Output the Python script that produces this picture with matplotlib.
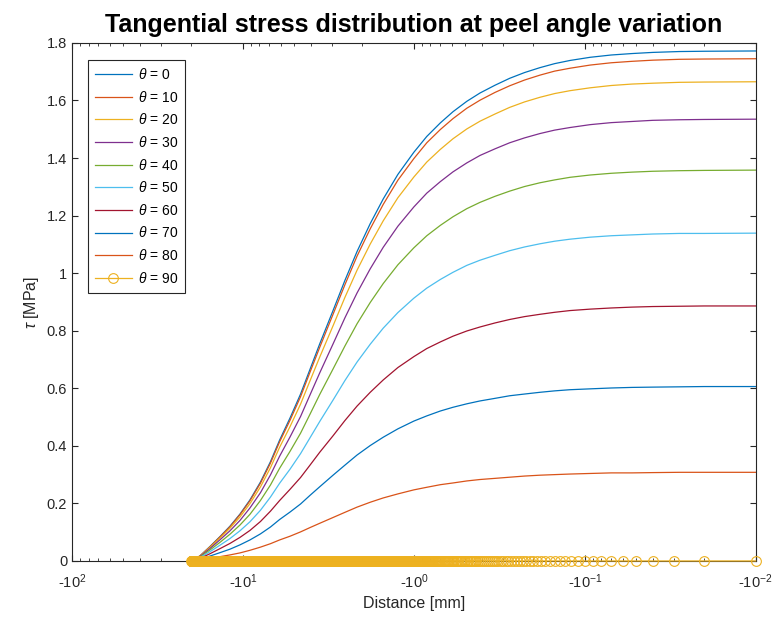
import numpy as np
import matplotlib
matplotlib.use("Agg")
import matplotlib.pyplot as plt

plt.rcParams['font.family'] = ['Liberation Sans', 'DejaVu Sans']
plt.rcParams['mathtext.fontset'] = 'custom'
plt.rcParams['mathtext.rm'] = 'Liberation Sans'
plt.rcParams['mathtext.it'] = 'Liberation Sans:italic'

# distance (mm, magnitude) where values were read, x axis shows it as negative
dist = [20, 17.8, 15.6, 13.6, 11.9, 10.4, 9.1, 7.9, 6.9, 6.1, 5.3, 4.6, 4.05, 3.55,
        2.97, 2.53, 2.15, 1.8, 1.51, 1.24, 1.0, 0.84, 0.70, 0.59, 0.49, 0.41, 0.335,
        0.275, 0.225, 0.183, 0.15, 0.122, 0.093, 0.07, 0.053, 0.04, 0.028, 0.02, 0.01]

tau_0 = [0, 0.018, 0.050, 0.085, 0.121, 0.163, 0.212, 0.274, 0.345, 0.420, 0.497, 0.580,
         0.666, 0.755, 0.870, 0.975, 1.075, 1.172, 1.258, 1.343, 1.420, 1.475, 1.522,
         1.561, 1.597, 1.626, 1.653, 1.677, 1.697, 1.714, 1.728, 1.739, 1.750, 1.758,
         1.763, 1.767, 1.770, 1.771, 1.772]
tau_10 = [0, 0.018, 0.049, 0.084, 0.119, 0.161, 0.209, 0.270, 0.340, 0.414, 0.489, 0.571,
          0.656, 0.743, 0.857, 0.960, 1.059, 1.154, 1.239, 1.323, 1.398, 1.453, 1.499,
          1.537, 1.573, 1.601, 1.628, 1.651, 1.671, 1.688, 1.702, 1.712, 1.723, 1.731,
          1.736, 1.740, 1.743, 1.744, 1.745]
tau_20 = [0, 0.017, 0.047, 0.080, 0.114, 0.153, 0.199, 0.257, 0.324, 0.395, 0.467, 0.545,
          0.626, 0.709, 0.817, 0.916, 1.010, 1.101, 1.182, 1.262, 1.334, 1.386, 1.430,
          1.467, 1.501, 1.528, 1.553, 1.576, 1.595, 1.611, 1.624, 1.634, 1.644, 1.652,
          1.657, 1.660, 1.663, 1.664, 1.665]
tau_30 = [0, 0.016, 0.043, 0.074, 0.105, 0.141, 0.184, 0.237, 0.299, 0.364, 0.431, 0.502,
          0.577, 0.654, 0.754, 0.845, 0.931, 1.015, 1.090, 1.163, 1.230, 1.278, 1.318,
          1.352, 1.383, 1.409, 1.432, 1.453, 1.470, 1.485, 1.497, 1.506, 1.516, 1.523,
          1.527, 1.531, 1.533, 1.534, 1.535]
tau_40 = [0, 0.014, 0.038, 0.065, 0.093, 0.125, 0.162, 0.210, 0.264, 0.322, 0.381, 0.444,
          0.510, 0.579, 0.667, 0.747, 0.824, 0.898, 0.964, 1.029, 1.088, 1.130, 1.166,
          1.196, 1.224, 1.246, 1.267, 1.285, 1.301, 1.314, 1.324, 1.333, 1.341, 1.347,
          1.351, 1.354, 1.356, 1.357, 1.358]
tau_50 = [0, 0.012, 0.032, 0.055, 0.078, 0.105, 0.136, 0.176, 0.222, 0.270, 0.319, 0.373,
          0.428, 0.485, 0.559, 0.627, 0.691, 0.753, 0.809, 0.863, 0.913, 0.948, 0.978,
          1.003, 1.027, 1.045, 1.062, 1.078, 1.091, 1.102, 1.111, 1.118, 1.125, 1.130,
          1.133, 1.136, 1.138, 1.138, 1.139]
tau_60 = [0, 0.009, 0.025, 0.043, 0.061, 0.082, 0.106, 0.137, 0.173, 0.210, 0.249, 0.290,
          0.333, 0.378, 0.435, 0.488, 0.538, 0.586, 0.629, 0.672, 0.710, 0.738, 0.761,
          0.781, 0.799, 0.813, 0.827, 0.839, 0.849, 0.857, 0.864, 0.870, 0.875, 0.879,
          0.882, 0.884, 0.885, 0.886, 0.886]
tau_70 = [0, 0.006, 0.017, 0.029, 0.041, 0.056, 0.073, 0.094, 0.118, 0.144, 0.170, 0.198,
          0.228, 0.258, 0.298, 0.333, 0.368, 0.401, 0.430, 0.459, 0.486, 0.504, 0.521,
          0.534, 0.546, 0.556, 0.565, 0.574, 0.580, 0.586, 0.591, 0.595, 0.598, 0.601,
          0.603, 0.604, 0.605, 0.606, 0.606]
tau_80 = [0, 0.003, 0.009, 0.015, 0.021, 0.028, 0.037, 0.048, 0.060, 0.073, 0.086, 0.101,
          0.116, 0.131, 0.151, 0.169, 0.187, 0.204, 0.219, 0.233, 0.247, 0.256, 0.265,
          0.271, 0.278, 0.283, 0.287, 0.291, 0.295, 0.298, 0.300, 0.302, 0.304, 0.306,
          0.306, 0.307, 0.308, 0.308, 0.308]

angles = [0, 10, 20, 30, 40, 50, 60, 70, 80, 90]
curves = [tau_0, tau_10, tau_20, tau_30, tau_40, tau_50, tau_60, tau_70, tau_80]

# theta = 90 gives zero stress; sampled every 0.01 mm from 0.01 to 20 mm
dist_90 = np.arange(1, 2001) * 0.01
tau_90 = np.zeros_like(dist_90)

xtick_pos = [100, 10, 1, 0.1, 0.01]
xtick_lab = ['-10$^{2}$', '-10$^{1}$', '-10$^{0}$', '-10$^{-1}$', '-10$^{-2}$']
ytick_pos = [0, 0.2, 0.4, 0.6, 0.8, 1, 1.2, 1.4, 1.6, 1.8]
ytick_lab = ['0', '0.2', '0.4', '0.6', '0.8', '1', '1.2', '1.4', '1.6', '1.8']

# couleurs matlab par defaut
colors = ['#0072BD', '#D95319', '#EDB120', '#7E2F8E', '#77AC30',
          '#4DBEEE', '#A2142F']

fig = plt.figure(figsize=(7.76, 6.31), dpi=100)
ax = fig.add_axes([0.0928, 0.111, 0.881, 0.821])

for i, (ang, tau) in enumerate(zip(angles[:-1], curves)):
    ax.plot(dist, tau, color=colors[i % 7], lw=0.9, label=r'$\theta$ = %d' % ang)

ax.plot(dist_90, tau_90, color=colors[9 % 7], lw=0.9, marker='o', ms=7,
        mfc='none', mew=0.8, label=r'$\theta$ = 90', clip_on=False, zorder=5)

ax.set_xscale('log')
ax.set_xlim(100, 0.01)
ax.set_ylim(0, 1.8)
ax.set_xticks(xtick_pos)
ax.set_xticklabels(xtick_lab)
ax.set_yticks(ytick_pos)
ax.set_yticklabels(ytick_lab)

ax.tick_params(which='both', direction='in', top=True, right=True,
               labelsize=10.5, colors='#262626')
ax.tick_params(axis='x', which='major', pad=8)
ax.tick_params(which='major', length=4)
ax.tick_params(which='minor', length=2)
for s in ax.spines.values():
    s.set_color('#262626')
    s.set_linewidth(0.8)

ax.set_title('Tangential stress distribution at peel angle variation',
             fontsize=18, fontweight='bold', pad=8)
ax.set_xlabel('Distance [mm]', fontsize=11.5, color='#262626')
ax.set_ylabel(r'$\tau$ [MPa]', fontsize=11.5, color='#262626')

leg = ax.legend(loc='upper left', bbox_to_anchor=(0.023, 0.967), fontsize=10,
                handlelength=2.7, handletextpad=0.4, labelspacing=0.55,
                borderpad=0.5, borderaxespad=0, fancybox=False,
                edgecolor='#262626', framealpha=1)
leg.get_frame().set_linewidth(0.8)

fig.savefig('out.png', dpi=100)
